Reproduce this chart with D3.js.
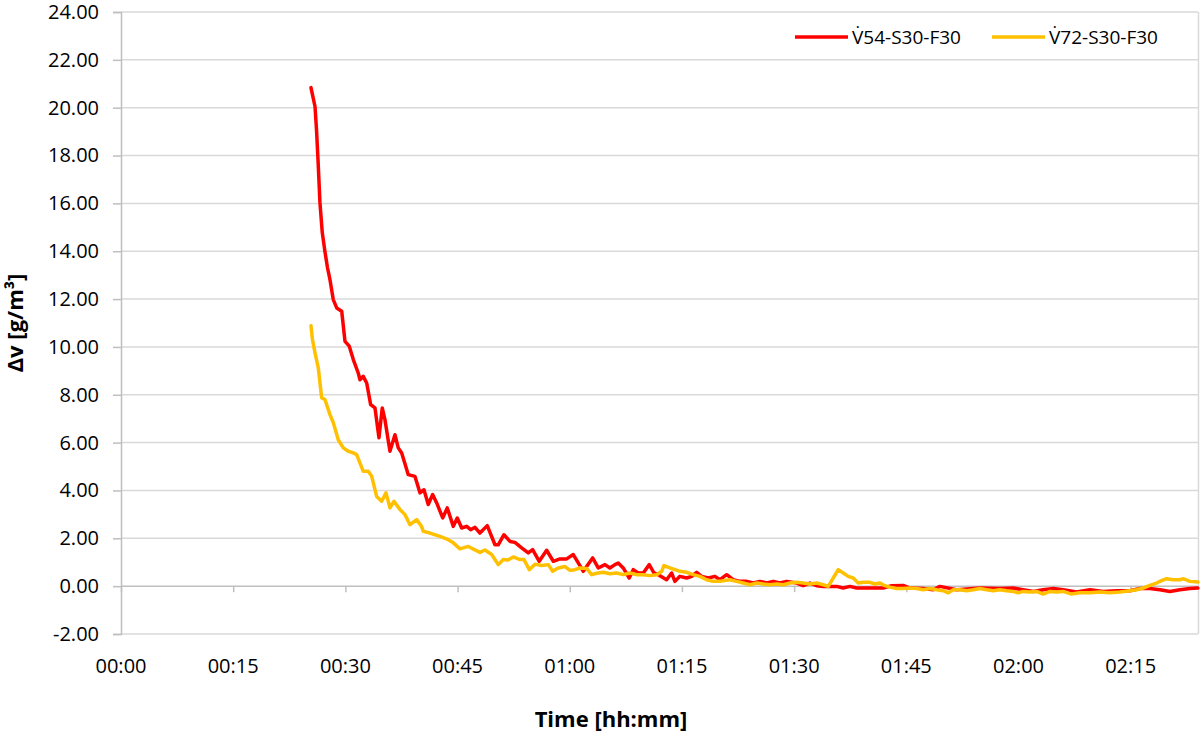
<!DOCTYPE html>
<html>
<head>
<meta charset="utf-8">
<script src="https://cdn.jsdelivr.net/npm/d3@7"></script>
<style>
  body { margin: 0; background: #fff; }
  svg text { font-family: "Open Sans", sans-serif; fill: #000; }
</style>
</head>
<body>
<div id="chart"></div>
<script>
// elapsed time in minutes and Δv in g/m³
const redTime = [25.40, 25.60, 25.94, 26.14, 26.34, 26.60, 26.91, 27.27, 27.61, 27.94, 28.38, 28.84, 29.51, 29.95, 30.52, 31.06, 31.72, 31.95, 32.39, 32.85, 33.38, 33.96, 34.49, 34.93, 35.29, 35.96, 36.63, 37.07, 37.53, 38.41, 39.30, 39.97, 40.51, 41.08, 41.67, 42.21, 43.01, 43.62, 44.43, 44.96, 45.55, 46.22, 46.75, 47.33, 47.99, 48.97, 50.00, 50.44, 51.20, 52.01, 52.67, 53.57, 54.45, 55.04, 55.92, 56.91, 57.80, 58.69, 59.59, 60.47, 61.14, 61.81, 63.06, 63.81, 64.71, 65.37, 66.04, 66.48, 67.15, 67.95, 68.49, 69.16, 69.83, 70.63, 71.26, 71.83, 72.95, 73.62, 74.06, 74.73, 75.63, 76.30, 76.97, 77.63, 78.52, 79.41, 80.08, 80.98, 81.86, 82.75, 83.65, 84.53, 85.43, 86.32, 87.21, 88.10, 89.00, 90.33, 91.22, 92.11, 93.01, 93.89, 95.68, 96.56, 97.46, 98.36, 100.13, 101.91, 103.03, 104.59, 105.48, 107.26, 108.60, 109.49, 111.72, 114.84, 117.51, 119.29, 120.63, 121.97, 123.30, 124.64, 125.98, 127.77, 129.55, 131.32, 133.11, 134.89, 136.23, 137.57, 138.90, 140.24, 141.58, 142.91, 143.98];
const redValue = [20.84, 20.55, 20.05, 19.08, 17.83, 16.03, 14.78, 13.98, 13.31, 12.81, 11.98, 11.63, 11.49, 10.23, 10.03, 9.47, 8.91, 8.63, 8.77, 8.49, 7.59, 7.45, 6.20, 7.45, 6.96, 5.64, 6.33, 5.78, 5.57, 4.66, 4.59, 3.90, 4.03, 3.41, 3.83, 3.48, 2.85, 3.27, 2.50, 2.85, 2.43, 2.50, 2.36, 2.46, 2.22, 2.53, 1.73, 1.73, 2.15, 1.87, 1.83, 1.60, 1.39, 1.53, 1.04, 1.50, 1.04, 1.14, 1.14, 1.32, 0.97, 0.62, 1.18, 0.76, 0.90, 0.76, 0.90, 0.97, 0.76, 0.34, 0.69, 0.55, 0.55, 0.90, 0.55, 0.48, 0.27, 0.55, 0.20, 0.41, 0.34, 0.41, 0.58, 0.41, 0.34, 0.41, 0.27, 0.48, 0.27, 0.20, 0.20, 0.13, 0.20, 0.13, 0.20, 0.13, 0.20, 0.13, 0.02, 0.13, 0.02, -0.01, -0.01, -0.08, -0.01, -0.08, -0.08, -0.08, 0.02, 0.03, -0.08, -0.10, -0.15, -0.01, -0.15, -0.08, -0.10, -0.08, -0.15, -0.22, -0.15, -0.10, -0.15, -0.24, -0.15, -0.22, -0.19, -0.19, -0.10, -0.10, -0.15, -0.22, -0.15, -0.10, -0.08];

const yellowTime = [25.40, 25.60, 25.94, 26.38, 26.83, 27.27, 27.94, 28.38, 29.05, 29.72, 30.39, 31.06, 31.51, 32.39, 33.06, 33.52, 34.18, 34.85, 35.43, 35.96, 36.50, 37.30, 37.97, 38.64, 39.53, 40.20, 40.42, 41.31, 42.65, 43.76, 44.43, 45.32, 46.43, 47.99, 48.66, 49.56, 50.44, 51.11, 51.74, 52.45, 53.34, 53.88, 54.59, 55.35, 56.24, 57.13, 57.71, 58.46, 59.36, 60.03, 60.70, 61.36, 62.26, 62.93, 63.60, 64.48, 65.37, 66.27, 67.15, 68.05, 68.94, 69.83, 70.72, 71.62, 72.29, 72.59, 73.40, 74.06, 74.73, 75.63, 76.51, 77.41, 78.30, 79.18, 80.08, 80.75, 81.42, 82.31, 83.19, 84.09, 84.99, 85.87, 86.76, 87.66, 88.54, 89.44, 90.33, 91.22, 92.11, 93.01, 93.89, 94.56, 95.23, 95.90, 96.56, 97.23, 97.90, 98.57, 99.24, 100.13, 100.80, 101.47, 102.14, 102.81, 103.70, 104.59, 105.48, 106.38, 107.26, 108.16, 109.05, 109.94, 110.60, 111.27, 112.17, 113.06, 113.94, 114.84, 115.73, 116.62, 117.51, 118.41, 119.29, 119.96, 120.63, 121.52, 122.42, 123.30, 124.20, 125.09, 125.98, 127.10, 128.21, 129.55, 130.88, 132.22, 133.56, 134.89, 135.79, 136.67, 137.57, 138.46, 139.13, 139.80, 140.68, 141.58, 142.02, 142.91, 143.98];
const yellowValue = [10.89, 10.31, 9.75, 9.12, 7.87, 7.80, 7.17, 6.84, 6.12, 5.78, 5.64, 5.57, 5.50, 4.80, 4.80, 4.59, 3.75, 3.55, 3.90, 3.27, 3.55, 3.20, 2.99, 2.57, 2.78, 2.49, 2.29, 2.22, 2.08, 1.94, 1.81, 1.56, 1.66, 1.41, 1.51, 1.32, 0.90, 1.11, 1.09, 1.22, 1.11, 1.11, 0.69, 0.92, 0.86, 0.90, 0.62, 0.76, 0.82, 0.66, 0.69, 0.76, 0.74, 0.48, 0.54, 0.58, 0.52, 0.55, 0.48, 0.55, 0.48, 0.48, 0.44, 0.48, 0.62, 0.86, 0.76, 0.69, 0.62, 0.58, 0.48, 0.41, 0.27, 0.20, 0.20, 0.24, 0.27, 0.20, 0.13, 0.06, 0.13, 0.09, 0.06, 0.09, 0.06, 0.13, 0.16, 0.13, 0.09, 0.13, 0.06, -0.01, 0.34, 0.69, 0.55, 0.41, 0.34, 0.13, 0.16, 0.16, 0.09, 0.13, 0.02, -0.04, -0.10, -0.10, -0.08, -0.10, -0.15, -0.10, -0.15, -0.19, -0.28, -0.15, -0.15, -0.19, -0.15, -0.10, -0.15, -0.19, -0.15, -0.19, -0.22, -0.28, -0.22, -0.24, -0.22, -0.33, -0.22, -0.24, -0.22, -0.33, -0.28, -0.28, -0.24, -0.28, -0.24, -0.19, -0.15, -0.08, 0.03, 0.13, 0.23, 0.31, 0.27, 0.27, 0.31, 0.20, 0.17];

const seriesNames = ["V\u030754-S30-F30", "V\u030772-S30-F30"];
const seriesColors = ["#FF0000", "#FFC000"];
const yTicks = [-2, 0, 2, 4, 6, 8, 10, 12, 14, 16, 18, 20, 22, 24];
const xTicks = [0, 15, 30, 45, 60, 75, 90, 105, 120, 135];
const xMax = 144; // 02:24

const W = 1200, H = 733;
const margin = { top: 12, right: 2, bottom: 99, left: 121 };
const innerW = W - margin.left - margin.right;
const innerH = H - margin.top - margin.bottom;

const svg = d3.select("#chart")
  .append("svg")
  .attr("width", W)
  .attr("height", H);

const g = svg.append("g").attr("transform", `translate(${margin.left},${margin.top})`);

const x = d3.scaleLinear().domain([0, xMax]).range([0, innerW]);
const y = d3.scaleLinear().domain([-2, 24]).range([innerH, 0]);

const hhmm = m => d3.format("02d")(Math.floor(m / 60)) + ":" + d3.format("02d")(m % 60);
const fixed2 = v => d3.format(".2f")(v).replace("\u2212", "-");

// horizontal gridlines
g.append("g")
  .selectAll("line")
  .data(yTicks.filter(d => d !== 0))
  .enter()
  .append("line")
  .attr("x1", 0)
  .attr("x2", innerW)
  .attr("y1", d => y(d))
  .attr("y2", d => y(d))
  .attr("stroke", "#d9d9d9")
  .attr("stroke-width", 1.5);

// right border of the plot area
g.append("line")
  .attr("x1", innerW + 0.5).attr("x2", innerW + 0.5)
  .attr("y1", 0).attr("y2", innerH)
  .attr("stroke", "#d9d9d9")
  .attr("stroke-width", 1.5);

// y axis
const yAxis = g.append("g")
  .call(d3.axisLeft(y).tickValues(yTicks).tickSize(8).tickPadding(14).tickFormat(fixed2));
yAxis.select(".domain").attr("stroke", "#bfbfbf").attr("stroke-width", 1.5);
yAxis.selectAll(".tick line").attr("stroke", "#bfbfbf").attr("stroke-width", 1.5);
yAxis.selectAll(".tick text")
  .style("font-size", "20px")
  .style("font-family", "'Open Sans', sans-serif")
  .attr("fill", "#000");

// x axis sits on the zero line, labels at the bottom
const xAxis = g.append("g")
  .attr("transform", `translate(0,${y(0)})`)
  .call(d3.axisBottom(x).tickValues(xTicks).tickSize(6).tickFormat(""));
xAxis.select(".domain").attr("d", `M0,0H${innerW}`).attr("stroke", "#bfbfbf").attr("stroke-width", 1.5);
xAxis.selectAll(".tick line").attr("stroke", "#bfbfbf").attr("stroke-width", 1.5);

g.append("g")
  .selectAll("text")
  .data(xTicks)
  .enter()
  .append("text")
  .attr("x", d => x(d))
  .attr("y", innerH + 39)
  .attr("text-anchor", "middle")
  .style("font-size", "20px")
  .text(d => hhmm(d));

// series
const line = d3.line()
  .x(d => x(d[0]))
  .y(d => y(d[1]));

const series = [
  d3.zip(redTime, redValue),
  d3.zip(yellowTime, yellowValue)
];

g.append("g")
  .selectAll("path")
  .data(series)
  .enter()
  .append("path")
  .attr("d", line)
  .attr("fill", "none")
  .attr("stroke", (d, i) => seriesColors[i])
  .attr("stroke-width", 3.5)
  .attr("stroke-linejoin", "round")
  .attr("stroke-linecap", "round");

// axis titles
svg.append("text")
  .attr("transform", `translate(23,${margin.top + innerH / 2}) rotate(-90)`)
  .attr("text-anchor", "middle")
  .style("font-size", "22px")
  .style("font-weight", "bold")
  .text("Δv [g/m³]");

svg.append("text")
  .attr("x", 611)
  .attr("y", 727)
  .attr("text-anchor", "middle")
  .style("font-size", "22px")
  .style("font-weight", "bold")
  .text("Time [hh:mm]");

// legend
const legendX = [795, 992];
const legend = svg.append("g")
  .selectAll("g")
  .data(seriesNames)
  .enter()
  .append("g")
  .attr("transform", (d, i) => `translate(${legendX[i]},37)`);

legend.append("line")
  .attr("x1", 0).attr("x2", 53)
  .attr("stroke", (d, i) => seriesColors[i])
  .attr("stroke-width", 3.5);

legend.append("text")
  .attr("x", 57)
  .attr("dy", "0.35em")
  .style("font-size", "19px")
  .text(d => d);
</script>
</body>
</html>
